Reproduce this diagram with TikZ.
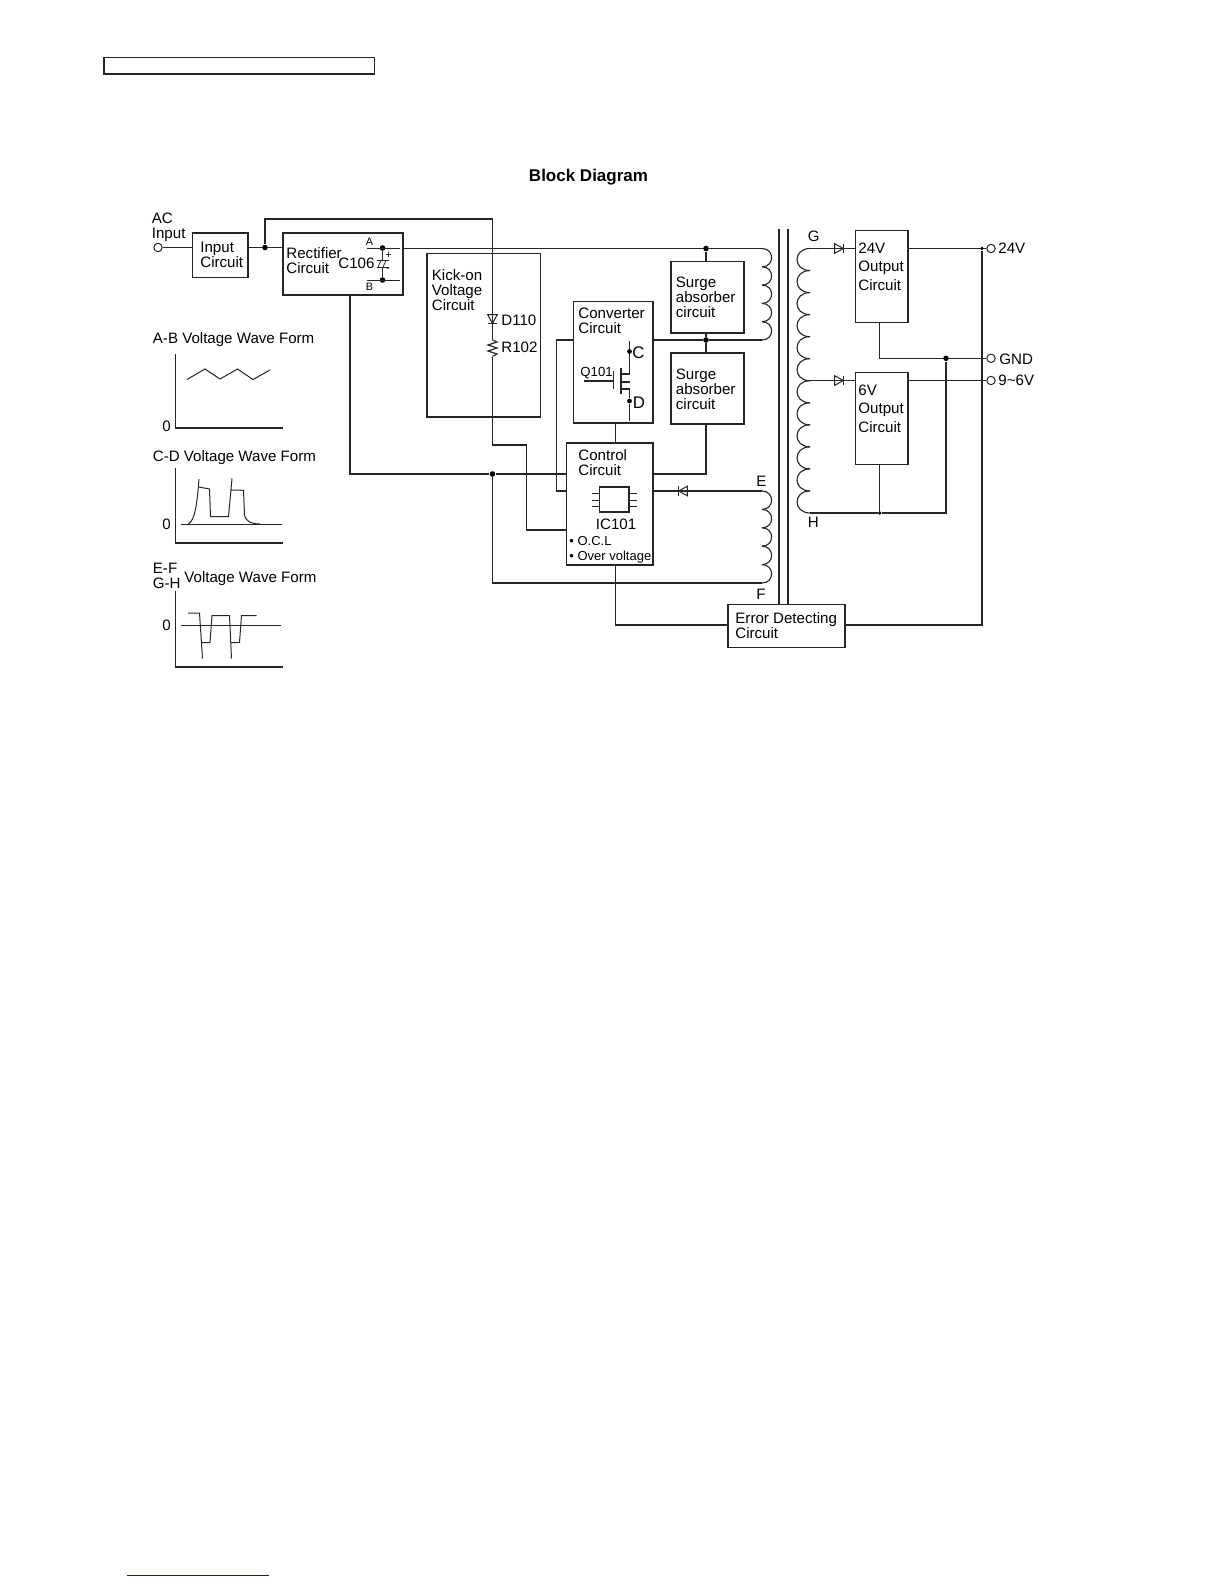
\documentclass[tikz,border=0pt]{standalone}
\usepackage{fontspec}
\setmainfont{Liberation Sans}
\usetikzlibrary{fit}
\definecolor{wirec}{gray}{0.15}
\definecolor{footc}{HTML}{14148C}
\newcommand{\drawcoil}[5]{%
  \foreach \k [evaluate=\k as \ya using #2+\k*#4, evaluate=\k as \yb using #2+(\k+1)*#4] in {1,...,#5} {
    \draw[wire] (#1,\ya) .. controls (#1+#3,\ya) and (#1+#3,\yb) .. (#1,\yb);
  }%
}
\tikzset{
  wire/.style={draw=wirec, line width=0.56pt},
  blk/.style={draw=wirec, line width=0.56pt, inner sep=0pt},
  lbl/.style={inner sep=0pt, anchor=north west, align=left, font=\fontsize{7.55}{7.5}\selectfont},
  tiny/.style={inner sep=0pt, font=\fontsize{5.4}{6}\selectfont},
  dot/.style={circle, fill=black, inner sep=0pt, minimum size=2.8pt},
  term/.style={circle, draw=wirec, line width=0.5pt, fill=white, inner sep=0pt, minimum size=4.2pt},
  pics/diode/.style={code={
    \draw[wire, line width=0.5pt] (-4.4,-4.8) -- (4.4,0) -- (-4.4,4.8) -- cycle;
    \draw[wire, line width=0.5pt] (4.4,-4.8) -- (4.4,4.8);
  }},
}
\begin{document}
\begin{tikzpicture}[x=0.5pt,y=-0.5pt]
  \useasboundingbox (0,0) rectangle (1224,1584);
  \node[blk, fit={(104,57.5)(374.5,74)}] (topbox) {};
  \node[inner sep=0pt, font=\fontsize{8.5}{9}\bfseries\selectfont] (title) at (588.5,177.5) {Block Diagram};
  % blocks
  \node[blk, fit={(192.5,233)(248,277.5)}] (inputbox) {};
  \node[blk, fit={(283,233)(403,295)}] (rectbox) {};
  \node[blk, fit={(427,253.5)(540.5,417)}] (kickbox) {};
  \node[blk, fit={(573.5,301.5)(653,423)}] (convbox) {};
  \node[blk, fit={(566.5,443)(653,565)}] (ctrlbox) {};
  \node[blk, fit={(671,261.5)(744,333)}] (surgea) {};
  \node[blk, fit={(671,353)(744,424)}] (surgeb) {};
  \node[blk, fit={(728,604.5)(845,647.5)}] (errbox) {};
  \node[blk, fit={(855.5,230.5)(908,322.5)}] (outa) {};
  \node[blk, fit={(855.5,372.5)(908,464.5)}] (outb) {};
  \node[blk, fit={(599.5,487)(629,512)}] (icbox) {};
  % labels
  \node[lbl] (aclbl) at (151.5,213) {AC\\Input};
  \node[lbl] (inputlbl) at (200,241.5) {Input\\Circuit};
  \node[lbl] (rectlbl) at (286,247) {Rectifier\\Circuit};
  \node[lbl] (clbl) at (338,257.5) {C106};
  \node[lbl] (kicklbl) at (431.5,269.5) {Kick-on\\Voltage\\Circuit};
  \node[lbl] (dlbl) at (501,314.5) {D110};
  \node[lbl] (rlbl) at (501,342) {R102};
  \node[lbl] (convlbl) at (578,308) {Converter\\Circuit};
  \node[lbl] (surgealbl) at (675.5,277) {Surge\\absorber\\circuit};
  \node[lbl] (surgeblbl) at (675.5,369) {Surge\\absorber\\circuit};
  \node[lbl] (ctrllbl) at (578,449) {Control\\Circuit};
  \node[lbl] (iclbl) at (595.5,518.5) {IC101};
  \node[lbl, font=\fontsize{6.5}{7.1}\selectfont] (ocllbl) at (569,536.5) {\textbullet\ O.C.L\\\textbullet\ Over voltage};
  \node[lbl] (errlbl) at (735,612.5) {Error Detecting\\Circuit};
  \node[lbl, font=\fontsize{7.55}{9.2}\selectfont] (outalbl) at (858,242.5) {24V\\Output\\Circuit};
  \node[lbl, font=\fontsize{7.55}{9.2}\selectfont] (outblbl) at (858,384.5) {6V\\Output\\Circuit};
  \node[lbl, font=\fontsize{8.4}{9}\selectfont] (clbl2) at (632,346) {C};
  \node[lbl, font=\fontsize{8.4}{9}\selectfont] (dlbl2) at (632.5,397) {D};
  \node[lbl, font=\fontsize{6.6}{7}\selectfont] (qlbl) at (580,367) {Q101};
  \node[lbl] (elbl) at (756,475.5) {E};
  \node[lbl] (flbl) at (756,588.5) {F};
  \node[lbl] (glbl) at (807.5,231) {G};
  \node[lbl] (hlbl) at (807.5,516.5) {H};
  \node[lbl] (v24lbl) at (998,243) {24V};
  \node[lbl] (gndlbl) at (999,353.5) {GND};
  \node[lbl] (v96lbl) at (998,375) {9\textasciitilde 6V};
  \node[tiny] (albl) at (369.5,241.5) {A};
  \node[tiny] (blbl) at (369.5,287) {B};
  \node[tiny] (plbl) at (388.5,255) {+};
  \node[tiny] (mlbl) at (388,270) {-};
  % points on the wires
  \node[term] (acin) at (158,247.5) {};
  \node[dot] (jin) at (265,247.5) {};
  \node[dot] (jsa) at (706,248.5) {};
  \node[dot] (jsb) at (706,340) {};
  \node[dot] (jret) at (492.5,474) {};
  \node[dot] (ja) at (382.5,248) {};
  \node[dot] (jb) at (382.5,280) {};
  \node[dot, minimum size=2.4pt] (jc) at (629.5,351.5) {};
  \node[dot, minimum size=2.4pt] (jd) at (629.5,401) {};
  \node[dot, minimum size=1.8pt] (jv) at (982,248.5) {};
  \node[dot] (jg) at (946,358.3) {};
  \node[dot, minimum size=1.8pt] (jh) at (879.7,513) {};
  \node[term] (t24) at (991,248.5) {};
  \node[term] (tgnd) at (991,358.3) {};
  \node[term] (t96) at (991,380.5) {};
  \coordinate (wtop) at (492.5,219);
  \coordinate (rtop) at (492.5,340);
  \coordinate (rbot) at (492.5,356.5);
  \coordinate (wbend) at (492.5,445);
  \coordinate (wdrop) at (526.5,530);
  \coordinate (ca) at (762,248.5);
  \coordinate (cb) at (762,340);
  \coordinate (ce) at (762,491);
  \coordinate (cf) at (762,583);
  \coordinate (cg) at (810,248.5);
  \coordinate (ct) at (810,380.5);
  \coordinate (ch) at (810,513);
  \coordinate (cleft) at (556.5,340);
  \coordinate (werr) at (982,625);
  \coordinate (wfb) at (615.5,625);
  % wires
  \draw[wire] (acin) -- (inputbox.west |- acin);
  \draw[wire] (inputbox.east |- acin) -- (jin) -- (rectbox.west |- jin);
  \draw[wire] (jin) |- (wtop) -- (rtop);
  \draw[wire] (rtop) -- ++(4.5,2) -- ++(-9,3) -- ++(9,3) -- ++(-9,3) -- ++(9,3) -- (rbot);
  \draw[wire] (rbot) -- (wbend) -| (wdrop) -- (ctrlbox.west |- wdrop);
  \draw[wire] (rectbox.east |- ca) -- (jsa) -- (ca);
  \draw[wire] (jsa) -- (surgea.north -| jsa);
  \draw[wire] (surgea.south -| jsa) -- (jsb) -- (surgeb.north -| jsa);
  \draw[wire] (convbox.east |- jsb) -- (jsb) -- (cb);
  \draw[wire] (convbox.west |- cleft) -- (cleft) |- (ctrlbox.west |- ce);
  \draw[wire] (rectbox.south -| 350,0) |- (jret) -- (ctrlbox.west |- jret);
  \draw[wire] (jret) |- (cf);
  \draw[wire] (surgeb.south -| jsa) |- (ctrlbox.east |- jret);
  \draw[wire] (convbox.south -| wfb) -- (ctrlbox.north -| wfb);
  \draw[wire] (ctrlbox.south -| wfb) -- (wfb) -- (errbox.west |- wfb);
  \draw[wire] (errbox.east |- werr) -- (werr) -- (jv);
  \draw[wire] (ctrlbox.east |- ce) -- (ce);
  \draw[wire] (cg) -- (outa.west |- cg);
  \draw[wire] (ct) -- (outb.west |- ct);
  \draw[wire] (outa.east |- t24) -- (jv) -- (t24);
  \draw[wire] (outb.east |- t96) -- (t96);
  \draw[wire] (outa.south -| jh) |- (jg) -- (tgnd);
  \draw[wire] (jg) |- (jh) -- (ch);
  \draw[wire] (outb.south -| jh) -- (jh);
  % transformer
  \drawcoil{762}{248.5-18.3}{12.8}{18.3}{5}
  \drawcoil{762}{491-18.4}{12.8}{18.4}{5}
  \drawcoil{810}{248.5-22.04}{-17.3}{22.04}{12}
  \coordinate (corea) at (779,229);
  \coordinate (coreb) at (788,229);
  \draw[wire, line width=0.8pt] (corea) -- (errbox.north -| corea);
  \draw[wire, line width=0.8pt] (coreb) -- (errbox.north -| coreb);
  % diodes
  \pic[rotate=-90] at (492.5,319) {diode};
  \pic[rotate=180] at (683,491) {diode};
  \pic at (839,248.5) {diode};
  \pic at (839,380.5) {diode};
  % capacitor
  \draw[wire] (ja) -- (382.5,260.5);
  \draw[wire] (382.5,267) -- (jb);
  \draw[wire, line width=0.45pt] (367,248) -- (400,248);
  \draw[wire, line width=0.45pt] (367,280) -- (400,280);
  \draw[wire, line width=0.45pt] (376.5,260.5) -- (388.5,260.5);
  \draw[wire, line width=0.45pt] (376.5,267) -- (388.5,267);
  \draw[wire, line width=0.4pt] (378,267) -- (381,260.5) (383,267) -- (386,260.5);
  % mosfet
  \draw[wire] (629.5,341) -- (jc) -- (629.5,374) -- (621,374);
  \draw[wire] (621,382) -- (629.5,382);
  \draw[wire] (621,389) -- (629.5,389) -- (jd) -- (629.5,421);
  \draw[wire, line width=0.8pt] (621,368) -- (621,394);
  \draw[wire] (613.5,371) -- (613.5,389);
  \draw[wire] (584,381) -- (613.5,381);
  % ic pins
  \foreach \py in {493,500,506} {
    \draw[wire, line width=0.5pt] (592,\py) -- (icbox.west |- 0,\py);
    \draw[wire, line width=0.5pt] (icbox.east |- 0,\py) -- (637,\py);
  }
  % wave forms
  \node[lbl] (wavea) at (152.5,332) {A-B Voltage Wave Form};
  \node[lbl] (waveb) at (152.5,450) {C-D Voltage Wave Form};
  \node[lbl] (wavec) at (184,571) {Voltage Wave Form};
  \node[lbl] (wavenm) at (152.5,563) {E-F\\G-H};
  \node[lbl] (zeroa) at (162,421) {0};
  \node[lbl] (zerob) at (162,519) {0};
  \node[lbl] (zeroc) at (162,619.5) {0};
  \draw[wire] (175.5,354) -- (175.5,428) -- (283,428);
  \draw[wire, line width=0.5pt] (187,379.5) -- (205,369) -- (220,379) -- (237.5,369) -- (253,379.5) -- (270,370);
  \draw[wire] (175.5,468) -- (175.5,543) -- (283,543);
  \draw[wire, line width=0.5pt] (181,524.5) -- (282,524.5);
  \draw[wire, line width=0.5pt] (188,524.5) .. controls (195,520) and (197,505) .. (199,479) (198.7,487) -- (209.5,489) -- (210.5,516.5) -- (228.5,516.5) -- (232,478.5) (230.7,490) -- (243.5,490.3) -- (244.5,515) .. controls (246,522) and (252,524) .. (260,524);
  \draw[wire] (175.5,591) -- (175.5,667) -- (283,667);
  \draw[wire, line width=0.5pt] (181,625) -- (281,625);
  \draw[wire, line width=0.5pt] (188,613) -- (199.5,613) -- (202.5,658.5) (201.5,642.5) -- (210,642.5) -- (212,615.5) -- (229.5,615.5) -- (231.5,658.5) (230.7,642.5) -- (239.5,642.5) -- (241.5,615.5) -- (256.5,615.5);
  % footer rule
  \coordinate (foota) at (127,1575.3);
  \coordinate (footb) at (268.7,1575.3);
  \draw[footc, line width=0.7pt] (foota) -- (footb);
\end{tikzpicture}
\end{document}
